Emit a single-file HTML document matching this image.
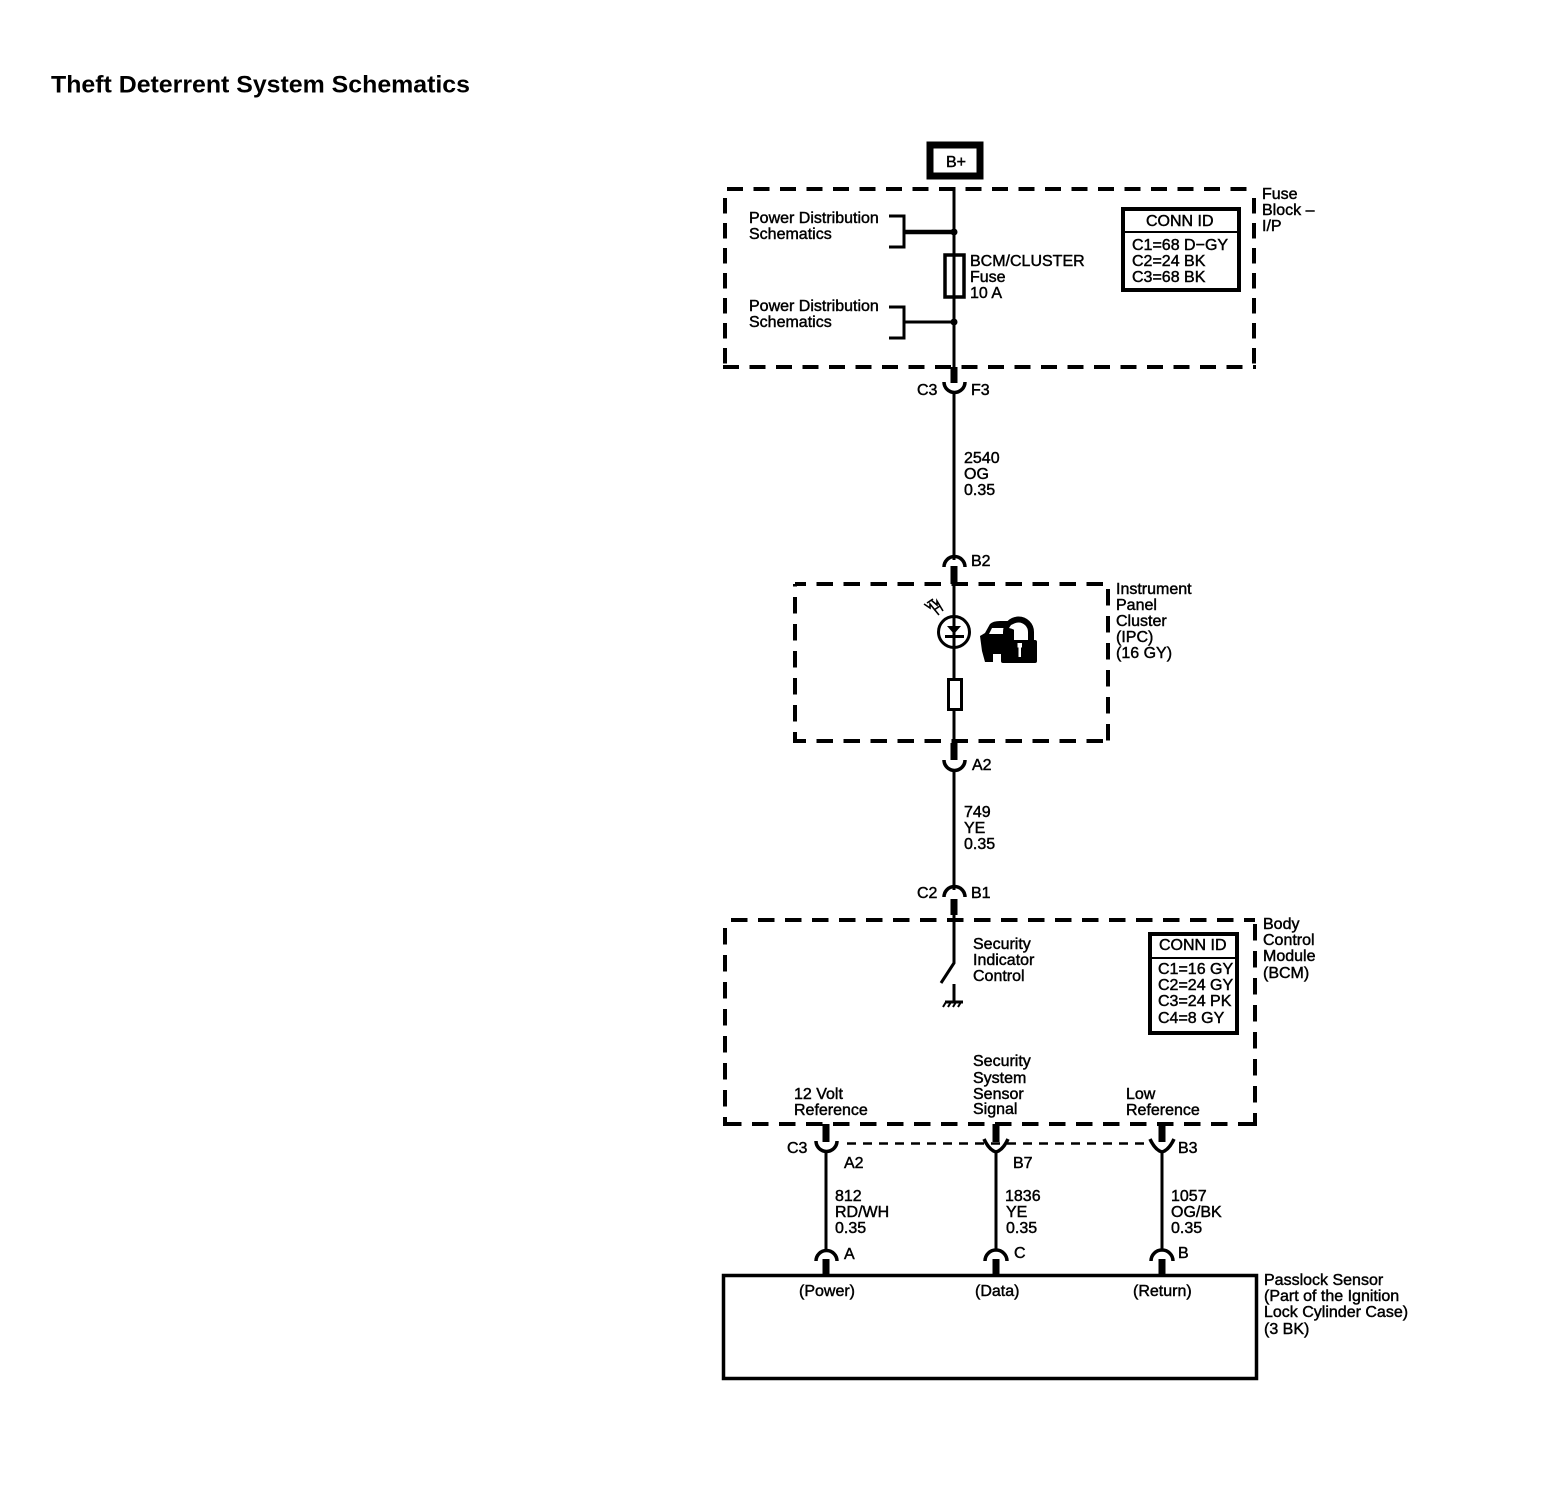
<!DOCTYPE html>
<html>
<head>
<meta charset="utf-8">
<style>
html,body{margin:0;padding:0;background:#fff;}
svg{display:block;}
text{font-family:"Liberation Sans",sans-serif;font-size:16px;fill:#000;stroke:#000;stroke-width:.45px;}
</style>
</head>
<body>
<svg width="1550" height="1504" viewBox="0 0 1550 1504" xmlns="http://www.w3.org/2000/svg">
<rect width="1550" height="1504" fill="#fff"/>
<text x="51" y="92.5" style="font-size:24px;font-weight:bold;stroke-width:0" textLength="419" lengthAdjust="spacingAndGlyphs">Theft Deterrent System Schematics</text>

<!-- dashed module boxes -->
<g fill="none" stroke="#000" stroke-width="4">
<path d="M727 189H1252" stroke-dasharray="16 10.5"/>
<path d="M723 367H1256" stroke-dasharray="16 10.5"/>
<path d="M725 198V369" stroke-dasharray="15.5 9.5"/>
<path d="M1254 198V369" stroke-dasharray="15.5 9.5"/>
<path d="M795 584H1108" stroke-dasharray="16.5 10.5" stroke-dashoffset="5.5"/>
<path d="M795 741H1108" stroke-dasharray="16.5 10.5" stroke-dashoffset="5.5"/>
<path d="M795 584V743" stroke-dasharray="16.5 10.5" stroke-dashoffset="-13"/>
<path d="M1108 584V741" stroke-dasharray="16.5 10.5" stroke-dashoffset="-5"/>
<path d="M725 920H1255" stroke-dasharray="16.5 10.5" stroke-dashoffset="-6"/>
<path d="M725 1124H1255" stroke-dasharray="16.5 10.5"/>
<path d="M725 920V1126" stroke-dasharray="16.5 10.5" stroke-dashoffset="-8"/>
<path d="M1255 920V1126" stroke-dasharray="16.5 10.5" stroke-dashoffset="-4"/>
</g>

<!-- B+ -->
<rect x="930" y="145" width="50" height="31" fill="#fff" stroke="#000" stroke-width="7"/>
<text x="956" y="167" text-anchor="middle">B+</text>

<!-- main wires -->
<g fill="none" stroke="#000" stroke-width="3">
<path d="M954 187V382"/>
<path d="M954 392V560"/>
<path d="M954 584V742"/>
<path d="M954 770V890"/>
<path d="M954 910V963L941 983"/>
<path d="M954 984V1002"/>
<path d="M945 1002H963"/>
<path d="M826 1152V1250M996 1152V1250M1162 1152V1250"/>
</g>
<!-- fuse -->
<rect x="945" y="255" width="19" height="42" fill="#fff" stroke="#000" stroke-width="3.5"/>
<path d="M954 255V297" stroke="#000" stroke-width="3"/>
<!-- brackets -->
<g fill="none" stroke="#000">
<path d="M889 216H904V247H889" stroke-width="3"/>
<path d="M904 232H954" stroke-width="4.5"/>
<path d="M889 307H904V338H889" stroke-width="3"/>
<path d="M904 322H954" stroke-width="3"/>
</g>
<circle cx="954" cy="232" r="3.5"/>
<circle cx="954" cy="322" r="3.5"/>

<!-- connector stubs -->
<g stroke="#000" stroke-width="7" fill="none">
<path d="M954 367V383"/>
<path d="M954 566V584"/>
<path d="M954 743V760"/>
<path d="M954 899V915"/>
<path d="M826 1124V1142"/>
<path d="M996 1124V1142"/>
<path d="M1162 1124V1142"/>
<path d="M826 1259V1275"/>
<path d="M996 1259V1275"/>
<path d="M1162 1259V1275"/>
</g>
<!-- connector arcs -->
<g stroke="#000" stroke-width="3.5" fill="none">
<path d="M944 382A10.5 10.5 0 0 0 965 382"/>
<path d="M944 567A10.5 10.5 0 0 1 965 567"/>
<path d="M944 760A10.5 10.5 0 0 0 965 760"/>
<path d="M944 897A10.5 10.5 0 0 1 965 897"/>
<path d="M816 1141A10.5 10.5 0 0 0 837 1141"/>
<path d="M984 1139Q989 1150 996 1152Q1003 1150 1008 1139"/>
<path d="M1150 1139Q1155 1150 1162 1152Q1169 1150 1174 1139"/>
<path d="M816 1261A10.5 10.5 0 0 1 837 1261"/>
<path d="M985 1261A10.5 10.5 0 0 1 1007 1261"/>
<path d="M1151 1261A10.5 10.5 0 0 1 1173 1261"/>
</g>
<path d="M847 1143.5H1150" stroke="#000" stroke-width="2.5" stroke-dasharray="9 7" fill="none"/>

<!-- CONN ID boxes -->
<rect x="1123" y="209" width="116" height="81" fill="#fff" stroke="#000" stroke-width="4"/>
<path d="M1123 232H1239" stroke="#000" stroke-width="2"/>
<rect x="1150" y="934" width="87" height="99" fill="#fff" stroke="#000" stroke-width="4"/>
<path d="M1150 958H1237" stroke="#000" stroke-width="2"/>

<!-- LED -->
<circle cx="954" cy="632" r="15.5" fill="none" stroke="#000" stroke-width="3"/>
<path d="M954 617V647" stroke="#000" stroke-width="3"/>
<path d="M947 626H961L954 634Z" fill="#000"/>
<path d="M945 636.5H964" stroke="#000" stroke-width="3"/>
<g stroke="#000" stroke-width="1.6" fill="none">
<path d="M924 604L930 608L930 604L939 615"/>
<path d="M931 600L937 605L937 601L943 611"/>
<path d="M927 603L933 599M934 610L940 606"/>
</g>

<!-- car + lock icon -->
<g>
<path d="M980 636L985 633L990 624Q993 621 1000 621H1010L1014 628V661H1003V654H993V662H985L982 651Z" fill="#000"/>
<path d="M992 628H1006L1009 634H989Z" fill="#fff"/>
<path d="M1006 640V632A12.5 12.5 0 0 1 1031 632V640" fill="none" stroke="#000" stroke-width="6"/>
<rect x="1001" y="640" width="36" height="23" rx="2" fill="#000"/>
<path d="M1011 625A11 11 0 0 1 1026 640H1021Q1019 630 1009 628Z" fill="#fff"/>
<path d="M1017.500 643h4.500v4.500h-1v9.500h-2.500v-9.500h-1z" fill="#fff"/>
</g>

<!-- resistor -->
<rect x="948.5" y="679.5" width="13" height="30" fill="#fff" stroke="#000" stroke-width="3"/>

<!-- ground -->
<path d="M946 1002L943 1007M951 1002L948 1007M956 1002L953 1007M961 1002L958 1007" stroke="#000" stroke-width="2"/>

<!-- passlock sensor -->
<rect x="723.500" y="1275.500" width="533" height="103" fill="#fff" stroke="#000" stroke-width="3.5"/>

<!-- labels -->
<text x="749" y="223">Power Distribution</text>
<text x="749" y="239">Schematics</text>
<text x="749" y="311">Power Distribution</text>
<text x="749" y="327">Schematics</text>
<text x="970" y="266">BCM/CLUSTER</text>
<text x="970" y="282">Fuse</text>
<text x="970" y="298">10 A</text>
<text x="1146" y="226">CONN ID</text>
<text x="1132" y="250">C1=68 D&#8722;GY</text>
<text x="1132" y="266">C2=24 BK</text>
<text x="1132" y="282">C3=68 BK</text>
<text x="1262" y="199">Fuse</text>
<text x="1262" y="215">Block &#8211;</text>
<text x="1262" y="231">I/P</text>
<text x="917" y="395">C3</text>
<text x="971" y="395">F3</text>
<text x="964" y="463">2540</text>
<text x="964" y="479">OG</text>
<text x="964" y="495">0.35</text>
<text x="971" y="566">B2</text>
<text x="1116" y="594">Instrument</text>
<text x="1116" y="610">Panel</text>
<text x="1116" y="626">Cluster</text>
<text x="1116" y="642">(IPC)</text>
<text x="1116" y="658">(16 GY)</text>
<text x="972" y="770">A2</text>
<text x="964" y="817">749</text>
<text x="964" y="833">YE</text>
<text x="964" y="849">0.35</text>
<text x="917" y="898">C2</text>
<text x="971" y="898">B1</text>
<text x="1263" y="929">Body</text>
<text x="1263" y="945">Control</text>
<text x="1263" y="961">Module</text>
<text x="1263" y="978">(BCM)</text>
<text x="973" y="949">Security</text>
<text x="973" y="965">Indicator</text>
<text x="973" y="981">Control</text>
<text x="1159" y="950">CONN ID</text>
<text x="1158" y="974">C1=16 GY</text>
<text x="1158" y="990">C2=24 GY</text>
<text x="1158" y="1006">C3=24 PK</text>
<text x="1158" y="1023">C4=8 GY</text>
<text x="973" y="1066">Security</text>
<text x="973" y="1083">System</text>
<text x="973" y="1099">Sensor</text>
<text x="973" y="1114">Signal</text>
<text x="794" y="1099">12 Volt</text>
<text x="794" y="1115">Reference</text>
<text x="1126" y="1099">Low</text>
<text x="1126" y="1115">Reference</text>
<text x="787" y="1153">C3</text>
<text x="844" y="1168">A2</text>
<text x="1013" y="1168">B7</text>
<text x="1178" y="1153">B3</text>
<text x="835" y="1201">812</text>
<text x="835" y="1217">RD/WH</text>
<text x="835" y="1233">0.35</text>
<text x="1005" y="1201">1836</text>
<text x="1006" y="1217">YE</text>
<text x="1006" y="1233">0.35</text>
<text x="1171" y="1201">1057</text>
<text x="1171" y="1217">OG/BK</text>
<text x="1171" y="1233">0.35</text>
<text x="844" y="1259">A</text>
<text x="1014" y="1258">C</text>
<text x="1178" y="1258">B</text>
<text x="799" y="1296">(Power)</text>
<text x="975" y="1296">(Data)</text>
<text x="1133" y="1296">(Return)</text>
<text x="1264" y="1285">Passlock Sensor</text>
<text x="1264" y="1301">(Part of the Ignition</text>
<text x="1264" y="1317">Lock Cylinder Case)</text>
<text x="1264" y="1334">(3 BK)</text>
</svg>
</body>
</html>
